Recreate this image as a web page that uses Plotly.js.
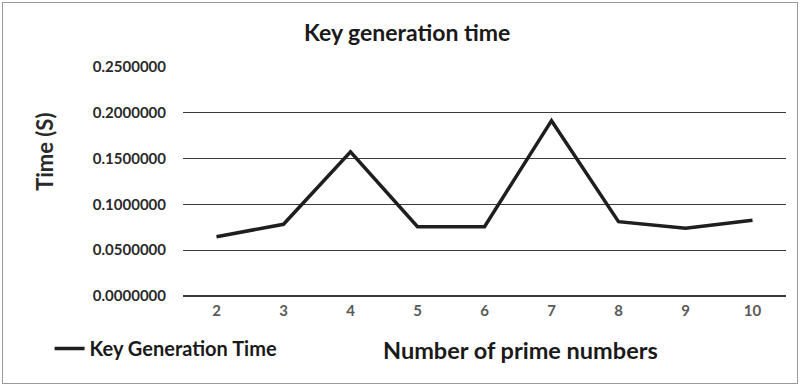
<!DOCTYPE html>
<html><head><meta charset="utf-8">
<script src="https://cdn.plot.ly/plotly-3.0.1.min.js"></script>
<style>html,body{margin:0;padding:0;background:#fff}#wrap{position:absolute;left:2px;top:2px;width:794px;height:380px;border:1px solid #9a9a9a;}#chart{position:absolute;left:0;top:0;width:800px;height:386px}</style>
</head><body>
<div id="chart"></div><div id="wrap"></div>
<script>
const categories = ['2','3','4','5','6','7','8','9','10'];
const keyGenTime = [0.0647, 0.0783, 0.1575, 0.0757, 0.0757, 0.1914, 0.0811, 0.0739, 0.0826];
const yTicks = [0, 0.05, 0.1, 0.15, 0.2, 0.25];

const F = 'Lato, "Open Sans", sans-serif';
Plotly.newPlot('chart', [{
  x: categories, y: keyGenTime, type: 'scatter', mode: 'lines',
  name: 'Key Generation Time',
  line: {color: '#1e1e1e', width: 3.5}
}], {
  width: 800, height: 386,
  margin: {l: 183, r: 14, t: 67, b: 90},
  paper_bgcolor: '#fff', plot_bgcolor: '#fff',
  title: {text: 'Key generation time', x: 0.509, xanchor: 'center', y: 0.915, yanchor: 'middle', font: {family: F, size: 23, weight: 'bold', color: '#1a1a1a'}},
  xaxis: {type: 'category', range: [-0.5, 8.5], showgrid: false, zeroline: false, showline: false,
    ticks: '', tickfont: {family: F, size: 15, weight: 'bold', color: '#5a5a5a'}, ticklabelstandoff: 4},
  yaxis: {range: [0, 0.25], tickvals: yTicks, tickformat: '.7f', showgrid: true, gridcolor: '#3a3a3a', gridwidth: 1,
    zeroline: true, zerolinecolor: '#3a3a3a', zerolinewidth: 1.2, ticks: '',
    tickfont: {family: F, size: 15, weight: 'bold', color: '#2a2a2a'}, ticklabelstandoff: 16},
  showlegend: true,
  legend: {orientation: 'h', xref: 'container', yref: 'container', x: 0.062, y: 0.097, xanchor: 'left', yanchor: 'middle',
    font: {family: F, size: 20, weight: 'bold', color: '#1a1a1a'}, itemwidth: 30},
  annotations: [
    {text: 'Number of prime numbers', xref: 'paper', yref: 'paper', x: 0.56, y: -0.235, xanchor: 'center', yanchor: 'middle',
     showarrow: false, font: {family: F, size: 23.5, weight: 'bold', color: '#1a1a1a'}},
    {text: 'Time (S)', textangle: -90, xref: 'paper', yref: 'paper', x: -0.229, y: 0.629, xanchor: 'center', yanchor: 'middle',
     showarrow: false, font: {family: F, size: 22, weight: 'bold', color: '#2a2a2a'}}
  ]
}, {displayModeBar: false, staticPlot: true});
</script>
</body></html>
